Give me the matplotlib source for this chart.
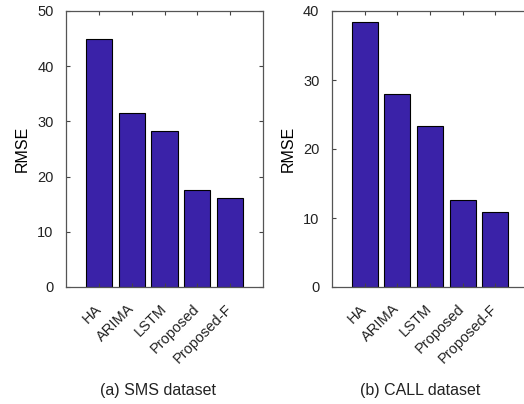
import matplotlib.pyplot as plt

plt.rcParams['font.family'] = ['Liberation Sans', 'DejaVu Sans']

methods = ['HA', 'ARIMA', 'LSTM', 'Proposed', 'Proposed-F']
sms_rmse = [45.0, 31.5, 28.3, 17.5, 16.2]
call_rmse = [38.4, 28.0, 23.4, 12.6, 10.9]

bar_color = '#3a22a8'

fig = plt.figure(figsize=(5.24, 4.04), dpi=100)

# two panels, the second runs a little past the right edge
ax1 = fig.add_axes([66 / 524, 117 / 404, 197 / 524, 276 / 404])
ax2 = fig.add_axes([332 / 524, 117 / 404, 196 / 524, 276 / 404])

panels = [
    (ax1, sms_rmse, 50, [0, 10, 20, 30, 40, 50], '(a) SMS dataset', 158),
    (ax2, call_rmse, 40, [0, 10, 20, 30, 40], '(b) CALL dataset', 420),
]

for ax, values, ymax, yticks, caption, cx in panels:
    pos = list(range(1, len(methods) + 1))
    ax.bar(pos, values, width=0.8, color=bar_color, edgecolor='black', linewidth=0.8)
    ax.set_xlim(0, 6)
    ax.set_ylim(0, ymax)
    ax.set_yticks(yticks)
    ax.set_xticks(pos)
    ax.set_xticklabels(methods, rotation=45, ha='right', va='center',
                       rotation_mode='anchor')
    ax.set_ylabel('RMSE', fontsize=11.5, labelpad=5)
    ax.tick_params(direction='in', length=3, width=0.8, top=True, right=True,
                   labelsize=10.5, colors='#444444', labelcolor='#222222')
    ax.tick_params(axis='y', pad=9)
    ax.tick_params(axis='x', pad=14)
    for sp in ax.spines.values():
        sp.set_color('#555555')
        sp.set_linewidth(0.9)
    fig.text(cx / 524, 1 - 390 / 404, caption, ha='center', va='center',
             fontsize=11.5, color='#222222')

plt.savefig('out.png', dpi=100)
